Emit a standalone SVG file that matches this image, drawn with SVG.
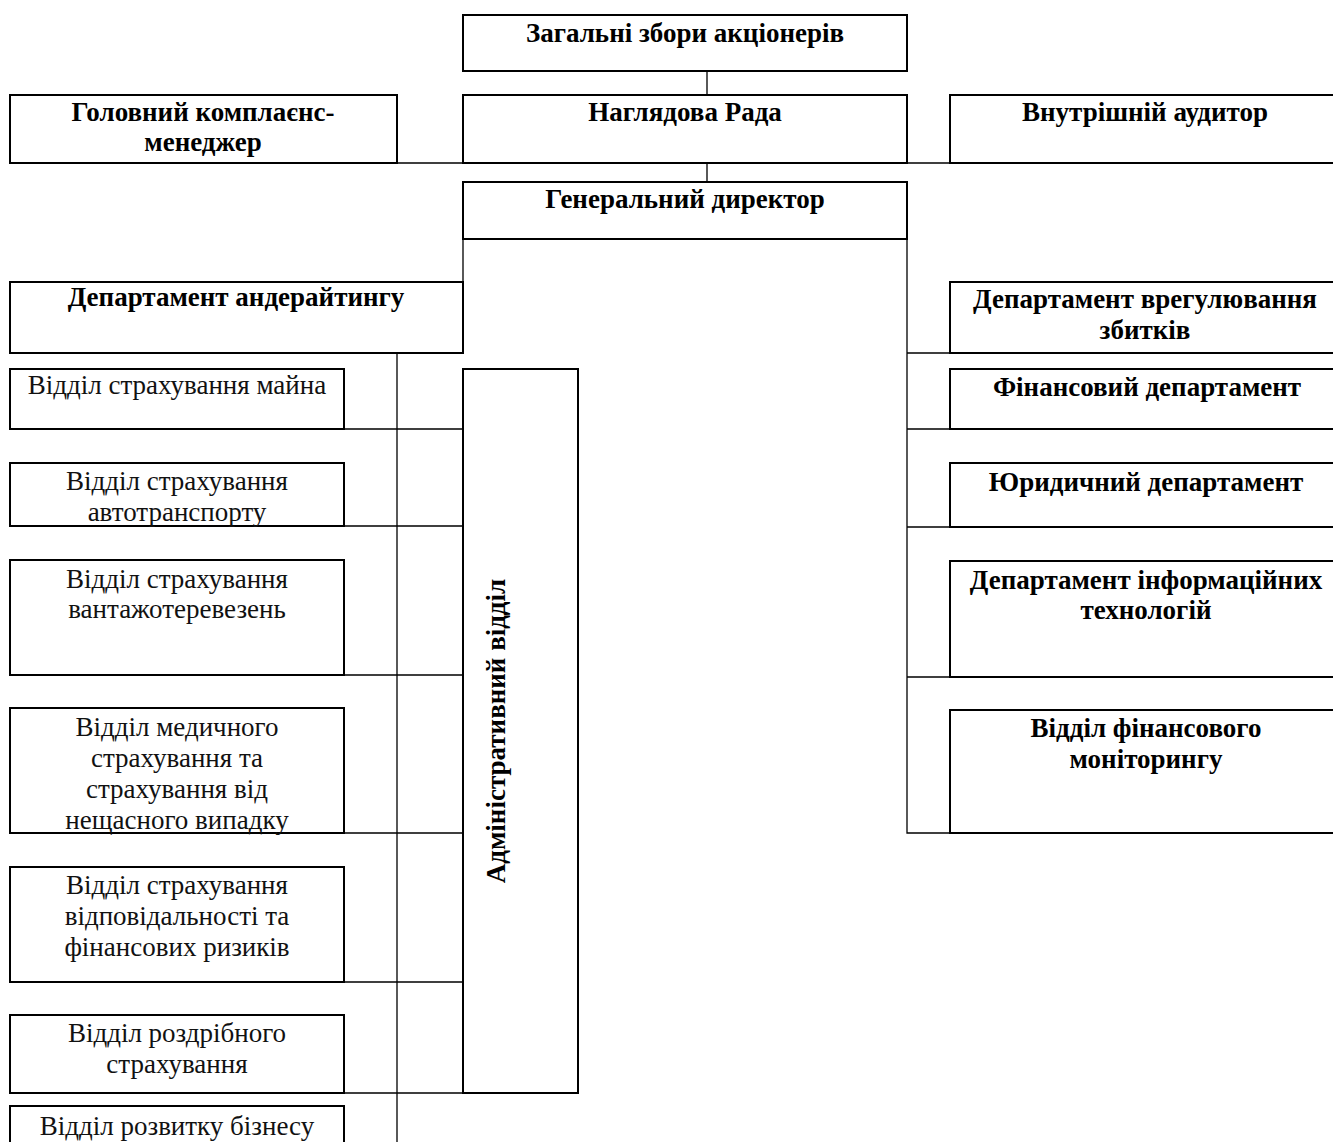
<svg xmlns="http://www.w3.org/2000/svg" width="1333" height="1142" viewBox="0 0 1333 1142">
<style>
.box{fill:#fff;stroke:#000;stroke-width:2}
.b{font-family:"Liberation Serif",serif;font-weight:bold;font-size:27px;text-anchor:middle;fill:#000}
.r{font-family:"Liberation Serif",serif;font-size:27px;text-anchor:middle;fill:#111}
.c{fill:none;stroke:#000;stroke-width:1.3}
</style>
<rect width="1333" height="1142" fill="#fff"/>
<g id="connectors">
<path class="c" d="M707 71V95M707 163V182M397 163H950M463 239V282M397 353V1142M344 429H463M344 526H463M344 675H463M344 833H463M344 982H463M344 1093H463M907 239V833H950M907 353H950M907 429H950M907 527H950M907 677H950"/>
</g>
<g id="n1"><rect class="box" x="463" y="15" width="444" height="56"/><text class="b" x="685" y="42">Загальні збори акціонерів</text></g>
<g id="n2"><rect class="box" x="463" y="95" width="444" height="68"/><text class="b" x="685" y="121">Наглядова Рада</text></g>
<g id="n3"><rect class="box" x="10" y="95" width="387" height="68"/><text class="b" x="203" y="121">Головний комплаєнс-</text><text class="b" x="203" y="151">менеджер</text></g>
<g id="n4"><rect class="box" x="950" y="95" width="390" height="68"/><text class="b" x="1145" y="121">Внутрішній аудитор</text></g>
<g id="n5"><rect class="box" x="463" y="182" width="444" height="57"/><text class="b" x="685" y="208">Генеральний директор</text></g>
<g id="n6"><rect class="box" x="10" y="282" width="453" height="71"/><text class="b" x="236" y="306">Департамент андерайтингу</text></g>
<g id="n7"><rect class="box" x="950" y="282" width="390" height="71"/><text class="b" x="1145" y="308">Департамент врегулювання</text><text class="b" x="1145" y="339">збитків</text></g>
<g id="n8"><rect class="box" x="10" y="369" width="334" height="60"/><text class="r" x="177" y="394">Відділ страхування майна</text></g>
<g id="n9"><rect class="box" x="10" y="463" width="334" height="63"/><text class="r" x="177" y="490">Відділ страхування</text><text class="r" x="177" y="521">автотранспорту</text></g>
<g id="n10"><rect class="box" x="10" y="560" width="334" height="115"/><text class="r" x="177" y="588">Відділ страхування</text><text class="r" x="177" y="618">вантажотеревезень</text></g>
<g id="n11"><rect class="box" x="10" y="708" width="334" height="125"/><text class="r" x="177" y="736">Відділ медичного</text><text class="r" x="177" y="767">страхування та</text><text class="r" x="177" y="798">страхування від</text><text class="r" x="177" y="829">нещасного випадку</text></g>
<g id="n12"><rect class="box" x="10" y="867" width="334" height="115"/><text class="r" x="177" y="894">Відділ страхування</text><text class="r" x="177" y="925">відповідальності та</text><text class="r" x="177" y="956">фінансових ризиків</text></g>
<g id="n13"><rect class="box" x="10" y="1015" width="334" height="78"/><text class="r" x="177" y="1042">Відділ роздрібного</text><text class="r" x="177" y="1073">страхування</text></g>
<g id="n14"><rect class="box" x="10" y="1106" width="334" height="50"/><text class="r" x="177" y="1135">Відділ розвитку бізнесу</text></g>
<g id="n15"><rect class="box" x="463" y="369" width="115" height="724"/><text class="b" x="505" y="731" transform="rotate(-90 505 731)">Адміністративний відділ</text></g>
<g id="n16"><rect class="box" x="950" y="369" width="390" height="60"/><text class="b" x="1147" y="396">Фінансовий департамент</text></g>
<g id="n17"><rect class="box" x="950" y="463" width="390" height="64"/><text class="b" x="1146" y="491">Юридичний департамент</text></g>
<g id="n18"><rect class="box" x="950" y="561" width="390" height="116"/><text class="b" x="1146" y="589">Департамент інформаційних</text><text class="b" x="1146" y="619">технологій</text></g>
<g id="n19"><rect class="box" x="950" y="710" width="390" height="123"/><text class="b" x="1146" y="737">Відділ фінансового</text><text class="b" x="1146" y="768">моніторингу</text></g>
</svg>
